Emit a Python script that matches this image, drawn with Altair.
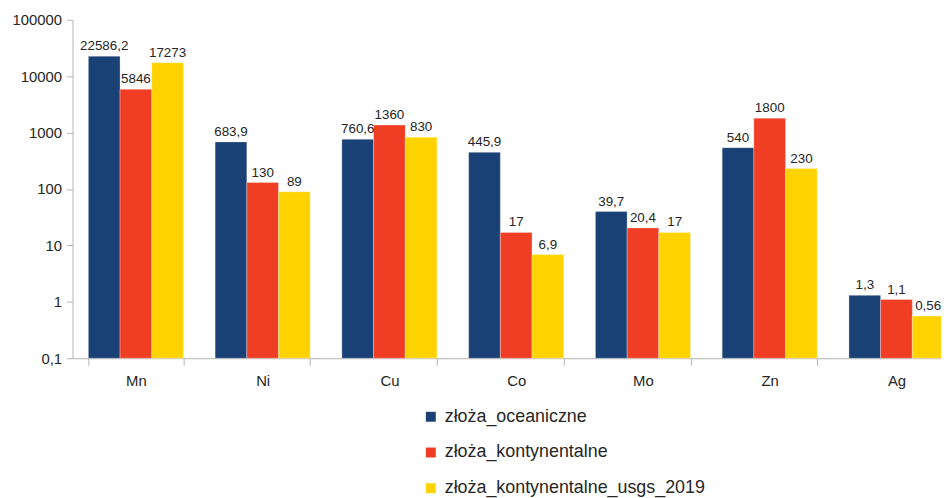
import altair as alt
import pandas as pd

categories = ["Mn", "Ni", "Cu", "Co", "Mo", "Zn", "Ag"]
series = ["złoża_oceaniczne", "złoża_kontynentalne", "złoża_kontynentalne_usgs_2019"]
oceaniczne = [22586.2, 683.9, 760.6, 445.9, 39.7, 540, 1.3]
kontynentalne = [5846, 130, 1360, 17, 20.4, 1800, 1.1]
usgs_2019 = [17273, 89, 830, 6.9, 17, 230, 0.56]
colors = ["#1a4175", "#ef3e23", "#ffd300"]
y_ticks = [0.1, 1, 10, 100, 1000, 10000, 100000]

rows = []
for s, vals in zip(series, [oceaniczne, kontynentalne, usgs_2019]):
    for c, v in zip(categories, vals):
        rows.append({"kategoria": c, "seria": s, "wartosc": v,
                     "etykieta": f"{v:g}".replace(".", ",")})
df = pd.DataFrame(rows)

FONT = "Liberation Sans"
TXT = "#262626"
AX = "#b3b3b3"

x = alt.X("kategoria:N", sort=categories, title=None,
          scale=alt.Scale(paddingInner=0.25, paddingOuter=0.125),
          axis=alt.Axis(labelAngle=0, labelFontSize=15, labelColor=TXT, labelFont=FONT,
                        domainColor=AX, tickColor=AX, tickSize=7, tickBand="extent",
                        labelPadding=8))
xo = alt.XOffset("seria:N", sort=series)
y = alt.Y("wartosc:Q", title=None,
          scale=alt.Scale(type="log", domain=[0.1, 100000], nice=False),
          axis=alt.Axis(values=y_ticks,
                        labelExpr="replace(format(datum.value, '~g'), '.', ',')",
                        labelFontSize=15, labelColor=TXT, labelFont=FONT,
                        domainColor=AX, tickColor=AX, tickSize=6, labelPadding=5,
                        grid=False))

bars = alt.Chart(df).mark_bar(stroke="white", strokeOpacity=0.3, strokeWidth=1).encode(
    x=x, xOffset=xo, y=y, y2=alt.datum(0.1),
    color=alt.Color("seria:N", sort=series,
                    scale=alt.Scale(domain=series, range=colors),
                    legend=alt.Legend(title=None, orient="none", legendX=352, legendY=391,
                                      direction="vertical", symbolType="square",
                                      symbolSize=100, symbolStrokeWidth=0,
                                      labelFontSize=18, labelFont=FONT, labelColor=TXT,
                                      labelLimit=0,
                                      rowPadding=18, labelOffset=5, padding=0)),
)

labels = alt.Chart(df).mark_text(baseline="alphabetic", dy=-6, fontSize=13.5,
                                 font=FONT, color=TXT).encode(
    x=x, xOffset=xo, y=y, text="etykieta:N")

chart = alt.layer(bars, labels).properties(
    width=894, height=341,
    autosize=alt.AutoSizeParams(type="none"),
    padding={"left": 65, "top": 10, "right": -19, "bottom": 139},
).configure_view(stroke=None)

chart.save("out.html", embed_options={"renderer": "svg", "actions": False})
